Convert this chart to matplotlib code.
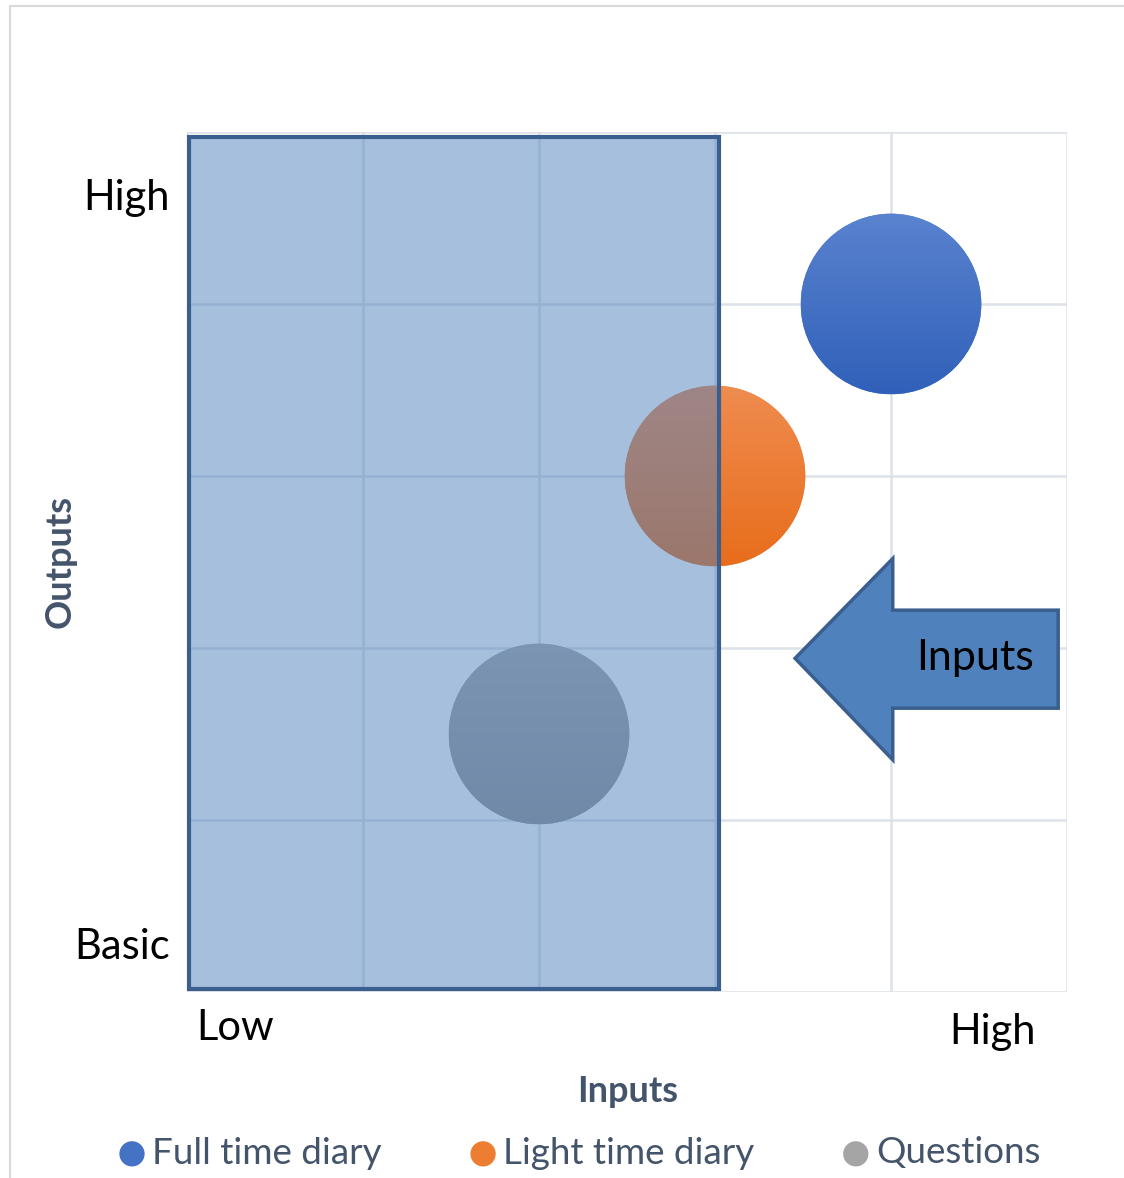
import numpy as np
import matplotlib
matplotlib.use("Agg")
import matplotlib.pyplot as plt
from matplotlib.patches import Rectangle, Polygon
from matplotlib.path import Path
from matplotlib.transforms import Affine2D, ScaledTranslation
from matplotlib.colors import to_rgb

plt.rcParams['font.family'] = ['Lato', 'DejaVu Sans']

# ---------------- data ----------------
series = ["Full time diary", "Light time diary", "Questions"]
inputs_x = [4, 3, 2]
outputs_y = [4, 3, 1.5]
bubble_size = [1, 1, 1]
colors = ["#4472C4", "#ED7D31", "#A5A5A5"]
grad_top = ["#5A83CF", "#EF8C50", "#A9A9A9"]
grad_bottom = ["#3060B9", "#E86D1B", "#939393"]

y_labels = ["Basic", "High"]
x_labels = ["Low", "High"]

# overlay shapes (data coordinates of annotations)
overlay_rect = (0.01, 0.02, 3.01, 4.95)  # x, y, w, h
arrow_pts = [(3.455, 1.94), (4.01, 2.52), (4.01, 2.22), (4.95, 2.22),
             (4.95, 1.65), (4.01, 1.65), (4.01, 1.35)]

W, H = 1124, 1178
fig = plt.figure(figsize=(W / 100, H / 100), dpi=100)
ax = fig.add_axes([187 / W, 1 - 992 / H, (1067 - 187) / W, (992 - 132) / H])
ax.set_xlim(0, 5)
ax.set_ylim(0, 5)
ax.set_xticks(np.arange(0, 6))
ax.set_yticks(np.arange(0, 6))
ax.tick_params(length=0, labelbottom=False, labelleft=False)
for s in ax.spines.values():
    s.set_visible(False)
ax.grid(True, color="#DDE2E9", lw=1.8, zorder=0)
ax.set_axisbelow(True)

# bubbles
r_pt = 65.0  # radius in points
base_s = (2 * r_pt) ** 2
handles = []
for i in range(len(series)):
    sc = ax.scatter([inputs_x[i]], [outputs_y[i]], s=[base_s * bubble_size[i]],
                    color=colors[i], edgecolors="none", zorder=2, label=series[i])
    handles.append(sc)
    # gradient fill clipped to the bubble
    r_in = r_pt * np.sqrt(bubble_size[i]) / 72.0
    trans = (Affine2D().scale(r_in) + fig.dpi_scale_trans +
             ScaledTranslation(inputs_x[i], outputs_y[i], ax.transData))
    c0 = np.array(ax.transData.transform((inputs_x[i], outputs_y[i])))
    r_px = r_in * fig.dpi
    inv = ax.transData.inverted()
    x0, y0 = inv.transform(c0 - r_px)
    x1, y1 = inv.transform(c0 + r_px)
    top = np.array(to_rgb(grad_top[i]))
    bot = np.array(to_rgb(grad_bottom[i]))
    t = np.linspace(0, 1, 256)[:, None]
    img = (top[None, :] * (1 - t) + bot[None, :] * t)[:, None, :]
    im = ax.imshow(img, extent=[x0, x1, y0, y1], origin="upper",
                   aspect="auto", zorder=2.1, interpolation="bilinear")
    im.set_clip_path(Path.unit_circle(), trans)

ax.set_xlim(0, 5)
ax.set_ylim(0, 5)

# semi-transparent overlay rectangle
rx, ry, rw, rh = overlay_rect
ax.add_patch(Rectangle((rx, ry), rw, rh, facecolor=(79/255, 129/255, 189/255, 0.5),
                       edgecolor="#3A5F8E", lw=3.0, zorder=3, clip_on=False))

# arrow
ax.add_patch(Polygon(arrow_pts, closed=True, facecolor="#4F81BD",
                     edgecolor="#3A5F8E", lw=2.5, zorder=4, clip_on=False))
ax.text(4.48, 1.94, "Inputs", fontsize=31, color="black", ha="center",
        va="center", zorder=5)

# category labels
fig.text(170 / W, 1 - 198 / H, y_labels[1], fontsize=30, ha="right", va="center")
fig.text(170 / W, 1 - 947 / H, y_labels[0], fontsize=30, ha="right", va="center")
fig.text(196 / W, 1 - 1028 / H, x_labels[0], fontsize=30, ha="left", va="center")
fig.text(1036 / W, 1 - 1032 / H, x_labels[1], fontsize=30, ha="right", va="center")

# axis titles
title_color = "#44546A"
fig.text(628 / W, 1 - 1091 / H, "Inputs", fontsize=26, fontweight="bold",
         color=title_color, ha="center", va="center")
fig.text(60 / W, 1 - 562 / H, "Outputs", fontsize=26, fontweight="bold",
         color=title_color, ha="center", va="center", rotation=90)

# legend
leg = fig.legend(handles=handles, loc="center", bbox_to_anchor=(577 / W, 1 - 1153 / H),
                 ncol=3, frameon=False, markerscale=0.14, scatterpoints=1,
                 handletextpad=0.05, columnspacing=2.25, fontsize=26.5,
                 labelcolor=title_color, handlelength=1.0)

# chart-area frame
fig.add_artist(Rectangle((10 / W, -0.05), 1.2, 1 - 6 / H + 0.05,
                         transform=fig.transFigure, facecolor="none",
                         edgecolor="#D9D9D9", lw=1.5, clip_on=False))

fig.savefig("out.png", dpi=100)
